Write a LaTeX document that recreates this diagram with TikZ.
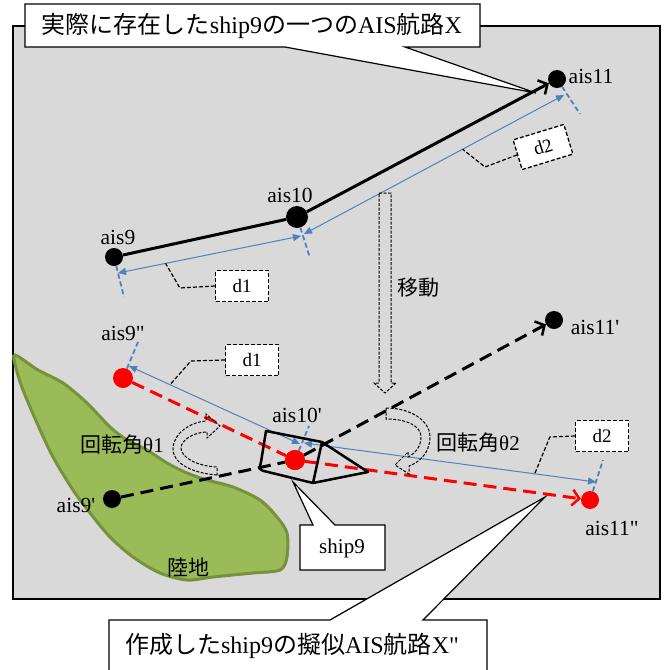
\documentclass[tikz,border=0pt]{standalone}
\usepackage{fontspec}
\setmainfont{Liberation Serif}
\newfontfamily\jp{Noto Sans CJK JP}
\usetikzlibrary{arrows.meta}

\definecolor{seagray}{HTML}{D9D9D9}
\definecolor{landgreen}{HTML}{9BBB59}
\definecolor{landedge}{HTML}{76923C}
\definecolor{dimblue}{HTML}{4F81BD}

\newcommand{\sq}{\textquotesingle}
\newcommand{\dq}{\textquotedbl}

\begin{document}
\begin{tikzpicture}[x=1pt,y=-1pt]
\tikzstyle{blackpt}=[circle, fill=black, inner sep=0pt, minimum size=18pt]
\tikzstyle{redpt}=[circle, fill=red, inner sep=0pt, minimum size=20pt]
\tikzstyle{aislbl}=[font=\rmfamily\fontsize{21.5}{21.5}\selectfont, inner sep=0pt]
\tikzstyle{jplbl}=[font=\jp\fontsize{21}{21}\selectfont, inner sep=0pt]
\tikzstyle{route}=[line width=3pt, -{Straight Barb[length=7pt,width=16pt,line width=2.5pt]}]
\tikzstyle{newroute}=[route, dash pattern=on 13pt off 7pt]
\tikzstyle{dimline}=[draw=dimblue, line width=1pt, {Triangle[length=8pt,width=7pt]}-{Triangle[length=8pt,width=7pt]}]
\tikzstyle{extline}=[draw=dimblue, line width=1.8pt, dash pattern=on 5pt off 3pt]
\tikzstyle{dimbox}=[draw, fill=white, line width=1.3pt, dash pattern=on 4pt off 2pt, minimum width=53pt, minimum height=31pt, font=\fontsize{19}{19}\selectfont]
\tikzstyle{leader}=[line width=1.2pt, dash pattern=on 4pt off 2pt]
\tikzstyle{turn}=[line width=1pt, dash pattern=on 3pt off 1.5pt]
\tikzstyle{callout}=[line width=1.2pt, fill=white]

\useasboundingbox (0,0) rectangle (668,670);
\clip (0,0) rectangle (668,670);

% sea
\draw[line width=1.5pt, fill=seagray] (13,26) rectangle (660,599);

% land
\draw[line width=3pt, draw=landedge, fill=landgreen] plot[smooth cycle, tension=0.5] coordinates {(15,355) (38,370) (63,383) (87,403) (110,427) (127,440) (147,450) (167,463) (187,473) (207,480) (233,487) (260,500) (277,517) (287,533) (287,557) (280,570) (253,573) (213,577) (187,580) (160,573) (133,557) (110,537) (90,513) (73,490) (53,457) (37,423) (23,390) (16,368)};
\node (land) at (188,568) [jplbl] {陸地};

% callouts
\draw[callout] (25,4) -- (480,4) -- (480,47) -- (405,47) -- (536,93) -- (285,47) -- (25,47) -- cycle;
\node (cap1) at (252,26) [font=\fontsize{24}{24}\selectfont] {{\jp 実際に存在した}ship9{\jp の一つの}AIS{\jp 航路}X};
\draw[callout] (300,525) -- (313,525) -- (293,482) -- (335,525) -- (385,525) -- (385,570) -- (300,570) -- cycle;
\node (cap2) at (342,548) [font=\fontsize{21}{21}\selectfont] {ship9};
\draw[callout] (109,700) -- (109,620) -- (330,620) -- (545,497) -- (423,620) -- (487,620) -- (487,700) -- cycle;
\node (cap3) at (292,646) [font=\fontsize{24}{24}\selectfont] {{\jp 作成した}ship9{\jp の擬似}AIS{\jp 航路}X\dq};

% points of X
\node (a9) at (114,257) [blackpt] {};
\node (a10) at (297,217) [blackpt, minimum size=22pt] {};
\node (a11) at (557,79) [blackpt] {};
% points after the move
\node (m9) at (112,499) [blackpt] {};
\node (m11) at (554,320) [blackpt] {};
\node (r9) at (123,378) [redpt] {};
\node (r10) at (295,460) [redpt] {};
\node (r11) at (590,500) [redpt, minimum size=18pt] {};

% distances
\coordinate (e9) at (124,297);
\coordinate (e10) at (310,258);
\coordinate (e11) at (580,114);
\coordinate (f9) at (138,342);
\coordinate (f10) at (309,426);
\coordinate (f11) at (603,460);
\draw[extline] (a9) -- (e9);
\draw[extline] (a10) -- (e10);
\draw[extline] (a11) -- (e11);
\draw[extline] (r9) -- (f9);
\draw[extline] (r10) -- (f10);
\draw[extline] (r11) -- (f11);

\coordinate (d1s) at (118,273);
\coordinate (d1e) at (301,236);
\coordinate (d2s) at (304,234);
\coordinate (d2e) at (564,95);
\coordinate (g1s) at (129,366);
\coordinate (g1e) at (300,444);
\coordinate (g2s) at (304,443);
\coordinate (g2e) at (596,482);
\draw[dimline] (d1s) -- (d1e) coordinate[pos=0.26] (l1);
\draw[dimline] (d2s) -- (d2e) coordinate[pos=0.61] (l2);
\draw[dimline] (g1s) -- (g1e) coordinate[pos=0.24] (l3);
\draw[dimline] (g2s) -- (g2e) coordinate[pos=0.79] (l4);

\node (b1) at (242,286) [dimbox] {d1};
\node (b2) at (543,147) [dimbox, rotate=17] {d2};
\node (b3) at (252,360) [dimbox] {d1};
\node (b4) at (602,436) [dimbox] {d2};
\draw[leader] (b1.west) -- ++(-35,2) -- (l1);
\draw[leader] (b2.west) -- (485,167) -- (l2);
\draw[leader] (b3.west) -- ++(-34,1) -- (l3);
\draw[leader] (b4.west) -- ++(-25,1) -- (l4);

% routes
\draw[route] (a9) -- (a10) -- (a11);
\draw[newroute] (m9) -- (r10) -- (m11);
\draw[newroute, red] (r9) -- (r10) -- (r11);
\node (r10top) at (295,460) [redpt] {};

% ship9
\draw[line width=2.5pt, line join=round] (266,431) -- (322,442) -- (368,472) -- (313,483) -- (268,472) .. controls (259,470) .. (261,462) -- cycle;
\draw[line width=2.5pt] (322,442) -- (313,483);

% move and turns
\draw[turn] (379,193) -- (391,193) -- (391,383) -- (396,383) -- (385,393) -- (374,383) -- (379,383) -- cycle;
\node (move) at (418,288) [jplbl] {移動};
\draw[turn] (217,475) .. controls (190,473) and (172,462) .. (173,448)
  .. controls (174,432) and (192,422) .. (206,421) -- (206,414) -- (220,426) -- (207,438) -- (207,432)
  .. controls (194,432) and (181,440) .. (181,448)
  .. controls (181,457) and (196,466) .. (217,467) -- cycle;
\draw[turn] (386,408) .. controls (410,408) and (430,420) .. (430,437)
  .. controls (430,452) and (420,462) .. (409,466) -- (409,474) -- (395,465) -- (408,452) -- (408,457)
  .. controls (416,453) and (421,446) .. (421,437)
  .. controls (421,426) and (407,419) .. (386,419) -- cycle;
\node (turn1) at (122,445) [jplbl] {回転角{\rmfamily θ1}};
\node (turn2) at (478,443) [jplbl] {回転角{\rmfamily θ2}};

% labels
\node (t9) at (118,237) [aislbl] {ais9};
\node (t10) at (290,195) [aislbl] {ais10};
\node (t11) at (591,76) [aislbl] {ais11};
\node (u9) at (76,505) [aislbl] {ais9\sq};
\node (u11) at (595,327) [aislbl] {ais11\sq};
\node (v9) at (123,333) [aislbl] {ais9\dq};
\node (v10) at (297,415) [aislbl] {ais10\sq};
\node (v11) at (612,528) [aislbl] {ais11\dq};
\end{tikzpicture}
\end{document}
